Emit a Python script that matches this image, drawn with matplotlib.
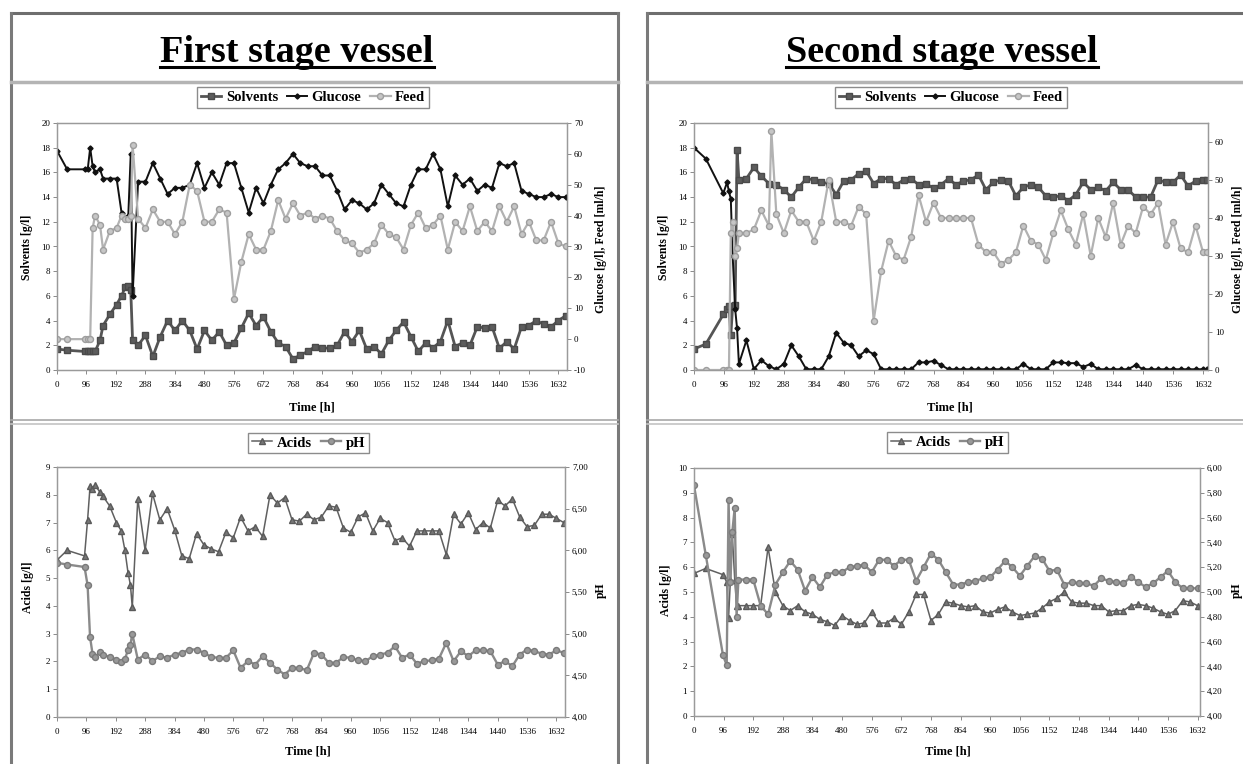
import matplotlib
matplotlib.use('Agg')
import matplotlib.pyplot as plt
from matplotlib.lines import Line2D
from matplotlib.ticker import FuncFormatter

plt.rcParams['font.family'] = ['Liberation Serif', 'DejaVu Serif']
plt.rcParams['axes.unicode_minus'] = False

ANCHO, ALTO = 1243, 764

# ---------------- first stage vessel ----------------
tiempo1 = [0, 33, 90, 100, 108, 116, 124, 140, 150, 172, 194, 210, 222, 232, 240, 246,
           264, 288, 312, 336, 360, 384, 408, 432, 456, 480, 504, 528, 552, 576, 600,
           624, 648, 672, 696, 720, 744, 768, 792, 816, 840, 864, 888, 912, 936, 960,
           984, 1008, 1032, 1056, 1080, 1104, 1128, 1152, 1176, 1200, 1224, 1248, 1272,
           1296, 1320, 1344, 1368, 1392, 1416, 1440, 1464, 1488, 1512, 1536, 1560, 1584,
           1608, 1632, 1656]

solventes1 = [1.7, 1.6, 1.5, 1.5, 1.5, 1.5, 1.5, 2.4, 3.6, 4.5, 5.3, 6.0, 6.7, 6.8, 6.5, 2.4,
              2.0, 2.8, 1.1, 2.7, 4.0, 3.2, 4.0, 3.2, 1.7, 3.2, 2.4, 3.1, 2.0, 2.2, 3.4,
              4.6, 3.6, 4.3, 3.1, 2.2, 1.9, 0.9, 1.2, 1.5, 1.9,
              1.8, 1.75, 2.0, 3.1, 2.3, 3.2, 1.7, 1.9, 1.3, 2.4, 3.2, 3.9, 2.7, 1.5, 2.2,
              1.8, 2.3, 4.0, 1.9, 2.2, 2.0, 3.5, 3.4, 3.5, 1.75, 2.3, 1.7, 3.5, 3.6, 4.0,
              3.7, 3.5, 4.0, 4.4]

glucosa1 = [61, 55, 55, 55, 62, 56, 54, 55, 52, 52, 52, 41, 39, 40, 60, 14,
            51, 51, 57, 52, 47, 49, 49, 50, 57, 49, 54, 50, 57, 57, 49, 41, 49, 44, 50,
            55, 57, 60, 57, 56, 56,
            53, 53, 48, 42, 45, 44, 42, 44, 50, 47, 44, 43, 50, 55, 55, 60, 55, 43, 53,
            50, 52, 48, 50, 49, 57, 56, 57, 48, 47, 46, 46, 47, 46, 46]

alimento1 = [0, 0, 0, 0, 0, 36, 40, 37, 29, 35, 36, 40, 39, 39, 40, 63,
             39, 36, 42, 38, 38, 34, 38, 50, 48, 38, 38, 42, 41, 13, 25, 34, 29, 29, 35,
             45, 39, 44, 40, 41, 39,
             40, 39, 35, 32, 31, 28, 29, 31, 37, 34, 33, 29, 37, 41, 36, 37, 40, 29, 38,
             35, 43, 35, 38, 35, 43, 38, 43, 34, 38, 32, 32, 38, 31, 30]

acidos1 = [5.65, 6.0, 5.8, 7.1, 8.3, 8.2, 8.35, 8.1, 7.95, 7.6, 7.0, 6.7, 6.0, 5.2, 4.75, 3.95,
           7.85, 6.0, 8.05, 7.1, 7.5, 6.75, 5.8, 5.7, 6.6, 6.2, 6.05, 5.95, 6.65, 6.45, 7.2,
           6.7, 6.85, 6.5, 8.0, 7.7, 7.9, 7.1, 7.05, 7.3, 7.1, 7.2, 7.6, 7.55, 6.8, 6.65,
           7.2, 7.35, 6.7, 7.15, 7.0, 6.35, 6.45, 6.15, 6.7, 6.7, 6.7, 6.7, 5.85, 7.3,
           6.95, 7.35, 6.75, 7.0, 6.8, 7.8, 7.6, 7.85, 7.2, 6.85, 6.9, 7.3, 7.3, 7.15, 7.0]

ph1 = [5.85, 5.83, 5.80, 5.58, 4.96, 4.76, 4.72, 4.78, 4.75, 4.72, 4.69, 4.66, 4.70, 4.80, 4.87, 5.00,
       4.69, 4.75, 4.67, 4.73, 4.71, 4.75, 4.77, 4.81, 4.81, 4.77, 4.72, 4.71, 4.71, 4.80,
       4.59, 4.67, 4.63, 4.73, 4.65, 4.57, 4.51, 4.59, 4.59, 4.56, 4.77, 4.75, 4.65, 4.65,
       4.72, 4.71, 4.68, 4.67, 4.73, 4.75, 4.77, 4.85, 4.71, 4.75, 4.64, 4.67, 4.68, 4.70,
       4.89, 4.67, 4.79, 4.73, 4.80, 4.80, 4.79, 4.63, 4.67, 4.61, 4.75, 4.81, 4.79, 4.76,
       4.75, 4.80, 4.77]

# ---------------- second stage vessel ----------------
tiempo2 = [0, 38, 94, 106, 112, 118, 124, 132, 138,
           144, 168, 192, 216, 240, 264, 288, 312, 336, 360, 384, 408, 432, 456, 480,
           504, 528, 552, 576, 600, 624, 648, 672, 696, 720, 744, 768, 792, 816, 840,
           864, 888, 912, 936, 960, 984, 1008, 1032, 1056, 1080, 1104, 1128, 1152, 1176,
           1200, 1224, 1248, 1272, 1296, 1320, 1344, 1368, 1392, 1416, 1440, 1464, 1488,
           1512, 1536, 1560, 1584, 1608, 1632, 1644]

solventes2 = [1.7, 2.1, 4.5, 4.9, 5.2, 2.8, 5.2, 5.3, 17.8,
              15.4, 15.5, 16.4, 15.7, 15.1, 15.0, 14.6, 14.0, 14.8, 15.5, 15.4, 15.2, 15.1,
              14.2, 15.3, 15.4, 15.9, 16.1, 15.1, 15.5, 15.5, 15.0, 15.4, 15.5, 15.0, 15.1,
              14.7, 15.0, 15.5, 15.0,
              15.3, 15.4, 15.8, 14.6, 15.2, 15.4, 15.3, 14.1, 14.8, 15.0, 14.8, 14.1, 14.0,
              14.1, 13.7, 14.2, 15.2, 14.6, 14.8, 14.5, 15.2, 14.6, 14.6, 14.0, 14.0, 14.0,
              15.4, 15.2, 15.2, 15.8, 14.9, 15.3, 15.4, 15.4]

glucosa2 = [58.5, 55.6, 46.5, 49.4, 47, 45, 30, 16, 11,
            1.6, 7.8, 0.2, 2.6, 1.0, 0.2, 1.6, 6.5, 3.6, 0.2, 0.2, 0.2, 3.6, 9.8, 7.2, 6.5,
            3.6, 5.2, 4.2, 0.2, 0.2, 0.2, 0.2, 0.2, 2.0, 2.0, 2.4, 1.3, 0.2, 0.2,
            0.2, 0.2, 0.2, 0.2, 0.2, 0.2, 0.2, 0.2, 1.6, 0.2, 0.2, 0.2, 2.0, 2.0, 1.8, 1.8,
            0.8, 1.6, 0.2, 0.2, 0.2, 0.2, 0.2, 1.3, 0.2, 0.2, 0.2, 0.2, 0.2, 0.2, 0.2, 0.2,
            0.2, 0.2]

# feed has one extra sample (spike near 248 h)
tiempo_alimento2 = sorted(tiempo2 + [248])
alimento2 = [0, 0, 0, 0, 0, 36, 39, 30, 32,
             36, 36, 37, 42, 38, 63,
             41, 36, 42, 39, 39, 34, 39, 50, 39, 39, 38, 43, 41, 13, 26, 34, 30, 29, 35,
             46, 39, 44, 40, 40, 40,
             40, 40, 33, 31, 31, 28, 29, 31, 38, 34, 33, 29, 36, 42, 37, 33, 41, 30, 40,
             35, 44, 33, 38, 36, 43, 41, 44, 33, 39, 32, 31, 38, 31, 31]

acidos2 = [5.75, 5.95, 5.7, 5.4, 3.95, 5.5, 7.35, 5.5, 4.45,
           4.45, 4.45, 4.45, 4.45, 6.8, 5.0, 4.45, 4.25, 4.45, 4.2, 4.1, 3.9, 3.8, 3.65,
           4.05, 3.85, 3.7, 3.75, 4.2, 3.75, 3.75, 3.95, 3.7, 4.2, 4.9, 4.9, 3.85, 4.1,
           4.6, 4.55,
           4.45, 4.4, 4.45, 4.2, 4.15, 4.3, 4.4, 4.2, 4.05, 4.1, 4.15, 4.35, 4.6, 4.75,
           5.0, 4.6, 4.55, 4.55, 4.45, 4.45, 4.2, 4.25, 4.25, 4.45, 4.5, 4.45, 4.35, 4.2,
           4.1, 4.25, 4.65, 4.6, 4.45, 4.45]

ph2 = [5.86, 5.30, 4.49, 4.41, 5.74, 5.08, 5.48, 5.68, 4.80,
       5.10, 5.10, 5.10, 4.89, 4.82, 5.06, 5.16, 5.25, 5.18, 5.01, 5.12, 5.04, 5.14, 5.16,
       5.16, 5.20, 5.21, 5.22, 5.16, 5.26, 5.26, 5.21, 5.26, 5.26, 5.09, 5.20, 5.31, 5.26,
       5.16, 5.06,
       5.06, 5.08, 5.09, 5.11, 5.12, 5.18, 5.25, 5.20, 5.13, 5.21, 5.29, 5.27, 5.17, 5.18,
       5.06, 5.08, 5.07, 5.07, 5.05, 5.11, 5.09, 5.08, 5.07, 5.12, 5.08, 5.04, 5.07, 5.12,
       5.17, 5.08, 5.03, 5.03, 5.03, 5.03]

marcas_tiempo = [0, 96, 192, 288, 384, 480, 576, 672, 768, 864, 960, 1056, 1152,
                 1248, 1344, 1440, 1536, 1632]

estilo_solv = dict(color='#555555', lw=2.0, marker='s', ms=4.3, mfc='#5c5c5c', mec='#4a4a4a')
estilo_gluc = dict(color='#111111', lw=1.4, marker='D', ms=2.6, mfc='#111111', mec='#111111')
estilo_feed = dict(color='#b2b2b2', lw=1.6, marker='o', ms=4.3, mfc='#c6c6c6', mec='#9e9e9e')
estilo_acid = dict(color='#606060', lw=1.1, marker='^', ms=4.0, mfc='#777777', mec='#5a5a5a')
estilo_ph = dict(color='#8a8a8a', lw=1.7, marker='o', ms=4.3, mfc='#999999', mec='#7a7a7a')

fig = plt.figure(figsize=(ANCHO / 100, ALTO / 100), dpi=100)
fig.patch.set_facecolor('white')


def caja(x0, y0, x1, y1):
    return [x0 / ANCHO, 1 - y1 / ALTO, (x1 - x0) / ANCHO, (y1 - y0) / ALTO]


def fx(x):
    return x / ANCHO


def fy(y):
    return 1 - y / ALTO


def linea(x0, y0, x1, y1, color='#7a7a7a', lw=2.0):
    fig.add_artist(Line2D([fx(x0), fx(x1)], [fy(y0), fy(y1)],
                          transform=fig.transFigure, color=color, lw=lw))


def formato(ax, ax2, xmax):
    ax.set_xlim(0, xmax)
    ax.set_xticks(marcas_tiempo)
    for a in (ax, ax2):
        for lado in a.spines.values():
            lado.set_color('#9a9a9a')
            lado.set_linewidth(0.9)
        a.tick_params(labelsize=6.5, length=3, width=0.7, color='#8a8a8a',
                      pad=2, direction='out')
    ax.tick_params(axis='x', pad=5)


def etiquetas(ax, ax2, xl, yl, yr, texto_izq, texto_der):
    ax.set_xlabel('Time [h]', fontsize=9, weight='bold', va='center')
    ax.xaxis.set_label_coords(fx(xl[0]), fy(xl[1]), transform=fig.transFigure)
    ax.set_ylabel(texto_izq, fontsize=8.5, weight='bold', va='center')
    ax.yaxis.set_label_coords(fx(yl[0]), fy(yl[1]), transform=fig.transFigure)
    ax2.set_ylabel(texto_der, fontsize=8.5, weight='bold', va='center', rotation=90)
    ax2.yaxis.set_label_coords(fx(yr[0]), fy(yr[1]), transform=fig.transFigure)


def leyenda(lineas, nombres, cx, cy):
    fig.legend(lineas, nombres, loc='center', bbox_to_anchor=(fx(cx), fy(cy)),
               bbox_transform=fig.transFigure, ncol=len(nombres), frameon=True,
               fancybox=False, edgecolor='#8c8c8c', prop={'weight': 'bold', 'size': 10.5},
               handlelength=1.4, handletextpad=0.3, columnspacing=0.6, borderpad=0.25,
               framealpha=1)


coma = FuncFormatter(lambda v, p: f'{v:.2f}'.replace('.', ','))

# ---- first stage, top ----
ax = fig.add_axes(caja(57, 123, 567, 370))
ax2 = ax.twinx()
l1, = ax.plot(tiempo1, solventes1, **estilo_solv)
l2, = ax2.plot(tiempo1, glucosa1, **estilo_gluc)
l3, = ax2.plot(tiempo1, alimento1, **estilo_feed)
ax.set_ylim(0, 20)
ax.set_yticks(range(0, 21, 2))
ax2.set_ylim(-10, 70)
ax2.set_yticks(range(-10, 71, 10))
formato(ax, ax2, 1660)
etiquetas(ax, ax2, (312, 407), (27, 247), (601, 249), 'Solvents [g/l]', 'Glucose [g/l], Feed [ml/h]')
leyenda([l1, l2, l3], ['Solvents', 'Glucose', 'Feed'], 313, 97.5)

# ---- first stage, bottom ----
ax = fig.add_axes(caja(57, 467, 565, 717))
ax2 = ax.twinx()
l1, = ax.plot(tiempo1, acidos1, **estilo_acid)
l2, = ax2.plot(tiempo1, ph1, **estilo_ph)
ax.set_ylim(0, 9)
ax.set_yticks(range(0, 10))
ax2.set_ylim(4, 7)
ax2.set_yticks([4.0, 4.5, 5.0, 5.5, 6.0, 6.5, 7.0])
ax2.yaxis.set_major_formatter(coma)
formato(ax, ax2, 1660)
etiquetas(ax, ax2, (308, 752), (28, 587), (601, 590), 'Acids [g/l]', 'pH')
leyenda([l1, l2], ['Acids', 'pH'], 308.5, 443)

# ---- second stage, top ----
ax = fig.add_axes(caja(694, 123, 1208, 370))
ax2 = ax.twinx()
l1, = ax.plot(tiempo2, solventes2, **estilo_solv)
l2, = ax2.plot(tiempo2, glucosa2, **estilo_gluc)
l3, = ax2.plot(tiempo_alimento2, alimento2, **estilo_feed)
ax.set_ylim(0, 20)
ax.set_yticks(range(0, 21, 2))
ax2.set_ylim(0, 65)
ax2.set_yticks(range(0, 61, 10))
formato(ax, ax2, 1648)
etiquetas(ax, ax2, (950, 407), (664, 247), (1238, 249), 'Solvents [g/l]', 'Glucose [g/l], Feed [ml/h]')
leyenda([l1, l2, l3], ['Solvents', 'Glucose', 'Feed'], 951, 97.5)

# ---- second stage, bottom ----
ax = fig.add_axes(caja(694, 468, 1200, 716))
ax2 = ax.twinx()
l1, = ax.plot(tiempo2, acidos2, **estilo_acid)
l2, = ax2.plot(tiempo2, ph2, **estilo_ph)
ax.set_ylim(0, 10)
ax.set_yticks(range(0, 11))
ax2.set_ylim(4, 6)
ax2.set_yticks([4.0, 4.2, 4.4, 4.6, 4.8, 5.0, 5.2, 5.4, 5.6, 5.8, 6.0])
ax2.yaxis.set_major_formatter(coma)
formato(ax, ax2, 1640)
etiquetas(ax, ax2, (948, 752), (666, 590), (1237, 590), 'Acids [g/l]', 'pH')
leyenda([l1, l2], ['Acids', 'pH'], 947.5, 442.5)

# ---- panel frames ----
for x0, x1 in ((11, 618), (647, 1252)):
    linea(x0, 13, x1, 13, '#6e6e6e', 2.2)
    linea(x0, 13, x0, 770, '#7a7a7a', 2.2)
    linea(x1, 13, x1, 770, '#7a7a7a', 2.2)
    linea(x0, 82, x1, 82, '#b4b4b4', 2.5)
    linea(x0, 420, x1, 420, '#a8a8a8', 1.2)
    linea(x0, 424, x1, 424, '#c4c4c4', 1.2)

titulos = [fig.text(fx(297), fy(62), 'First stage vessel', ha='center', va='baseline',
                    fontsize=27.5, weight='bold'),
           fig.text(fx(942), fy(62), 'Second stage vessel', ha='center', va='baseline',
                    fontsize=27.5, weight='bold')]

fig.canvas.draw()
render = fig.canvas.get_renderer()
for txt in titulos:
    bb = txt.get_window_extent(render)
    fig.add_artist(Line2D([bb.x0 / ANCHO, bb.x1 / ANCHO], [fy(66.5), fy(66.5)],
                          transform=fig.transFigure, color='black', lw=2.2))

fig.savefig('out.png', dpi=100)
